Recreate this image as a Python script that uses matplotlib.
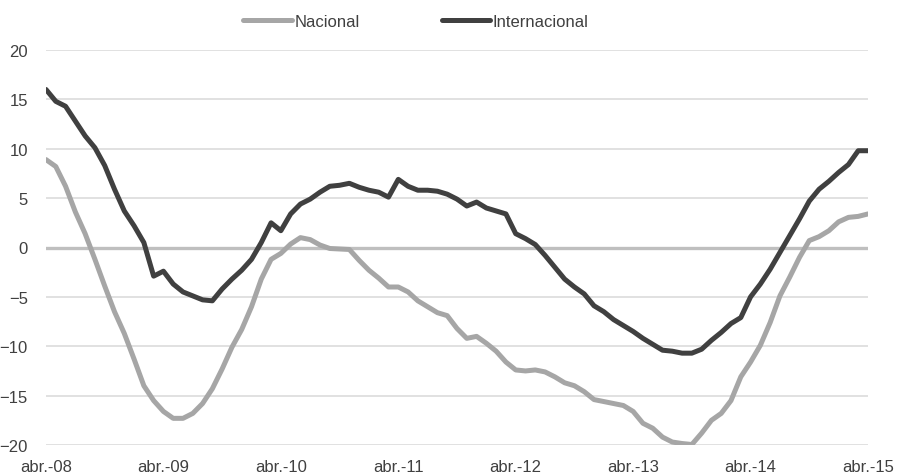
import numpy as np
import matplotlib
matplotlib.use("Agg")
import matplotlib.pyplot as plt

# datos mensuales abr-08 .. abr-15
nacional = [8.9, 8.2, 6.2, 3.6, 1.4, -1.2, -3.9, -6.5, -8.7, -11.3,
            -14.0, -15.5, -16.6, -17.3, -17.3, -16.8, -15.8, -14.3, -12.3, -10.1,
            -8.3, -6.0, -3.2, -1.2, -0.6, 0.35, 1.0, 0.8, 0.25, -0.1,
            -0.15, -0.2, -1.3, -2.3, -3.1, -4.0, -4.0, -4.5, -5.4, -6.0,
            -6.6, -6.9, -8.2, -9.2, -9.0, -9.7, -10.5, -11.6, -12.4, -12.5,
            -12.4, -12.6, -13.1, -13.7, -14.0, -14.6, -15.4, -15.6, -15.8, -16.0,
            -16.6, -17.8, -18.3, -19.2, -19.7, -19.85, -19.95, -18.8, -17.5, -16.8,
            -15.5, -13.1, -11.6, -9.9, -7.6, -4.9, -3.0, -1.0, 0.7, 1.1,
            1.7, 2.6, 3.05, 3.15, 3.4]
internacional = [16.0, 14.8, 14.3, 12.8, 11.3, 10.1, 8.3, 5.9, 3.7, 2.2,
                 0.5, -2.9, -2.4, -3.7, -4.5, -4.9, -5.3, -5.4, -4.2, -3.2,
                 -2.3, -1.2, 0.5, 2.5, 1.7, 3.4, 4.4, 4.9, 5.6, 6.2,
                 6.3, 6.5, 6.1, 5.8, 5.6, 5.1, 6.9, 6.2, 5.8, 5.8,
                 5.7, 5.4, 4.9, 4.2, 4.6, 4.0, 3.7, 3.4, 1.4, 0.9,
                 0.3, -0.8, -2.0, -3.2, -4.0, -4.7, -5.9, -6.5, -7.3, -7.9,
                 -8.5, -9.2, -9.8, -10.4, -10.5, -10.7, -10.7, -10.3, -9.4, -8.6,
                 -7.7, -7.1, -5.0, -3.7, -2.2, -0.5, 1.2, 2.9, 4.7, 5.9,
                 6.7, 7.6, 8.4, 9.8, 9.8]
tick_labels = ["abr.-08", "abr.-09", "abr.-10", "abr.-11", "abr.-12",
               "abr.-13", "abr.-14", "abr.-15"]

plt.rcParams['font.family'] = ['Liberation Sans', 'DejaVu Sans']

fig = plt.figure(figsize=(9.01, 4.77), dpi=100)
ax = fig.add_axes([46 / 901, 1 - 446 / 477, 822 / 901, 395 / 477])

xn = np.arange(len(nacional))
for yv in [-20, -15, -10, -5, 5, 10, 15, 20]:
    ax.axhline(yv, color="#d9d9d9", lw=1.1, zorder=0)
ax.axhline(0, color="#bfbfbf", lw=2.4, zorder=1)

ax.plot(xn, nacional, color="#a6a6a6", lw=3.6, label="Nacional",
        solid_capstyle="round", solid_joinstyle="round", zorder=2)
ax.plot(xn, internacional, color="#404040", lw=3.6, label="Internacional",
        solid_capstyle="round", solid_joinstyle="round", zorder=3)

ax.set_xlim(0, 84)
ax.set_ylim(-20, 20)
ax.set_yticks([-20, -15, -10, -5, 0, 5, 10, 15, 20])
ax.set_xticks(np.arange(0, 85, 12))
ax.set_xticklabels(tick_labels)
ax.tick_params(length=0, labelsize=12, colors="#404040")
ax.tick_params(axis="y", pad=13)
ax.tick_params(axis="x", pad=10)
for s in ax.spines.values():
    s.set_visible(False)

fig.legend(loc="upper center", bbox_to_anchor=(416 / 901, 1.0), ncol=2,
           frameon=False, fontsize=12, handlelength=2.9, handletextpad=0.18,
           columnspacing=4.9, labelcolor="#404040")

fig.savefig("out.png", dpi=100)
